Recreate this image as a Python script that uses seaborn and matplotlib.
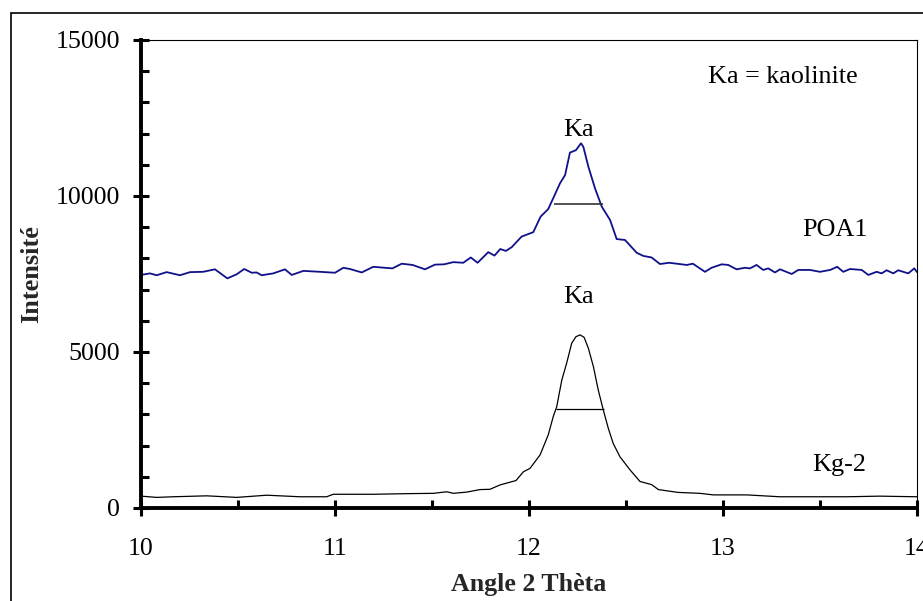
import matplotlib
matplotlib.use("Agg")
import matplotlib.pyplot as plt
from matplotlib.patches import Rectangle
from matplotlib.ticker import MultipleLocator
import pandas as pd
import seaborn as sns

# Diffractogram of the POA1 sample (2-theta in degrees, counts)
poa1_theta = [10.000, 10.046, 10.081, 10.132, 10.201, 10.253, 10.320, 10.381, 10.445, 10.493,
              10.532, 10.571, 10.596, 10.622, 10.682, 10.742, 10.777, 10.837, 10.923, 11.000,
              11.043, 11.077, 11.138, 11.197, 11.296, 11.344, 11.400, 11.464, 11.515, 11.562,
              11.610, 11.661, 11.700, 11.735, 11.790, 11.822, 11.852, 11.881, 11.911, 11.962,
              12.022, 12.060, 12.099, 12.125, 12.160, 12.186, 12.211, 12.242, 12.268, 12.280,
              12.306, 12.340, 12.375, 12.418, 12.452, 12.495, 12.555, 12.589, 12.632, 12.675,
              12.723, 12.813, 12.845, 12.907, 12.941, 12.993, 13.027, 13.070, 13.113, 13.139,
              13.173, 13.207, 13.233, 13.268, 13.294, 13.354, 13.388, 13.448, 13.500, 13.552,
              13.589, 13.620, 13.655, 13.715, 13.749, 13.792, 13.818, 13.843, 13.878, 13.903,
              13.955, 13.986, 14.000]
poa1_counts = [7470, 7520, 7460, 7560, 7460, 7560, 7570, 7650, 7360, 7490,
               7660, 7540, 7550, 7460, 7520, 7650, 7470, 7600, 7570, 7540,
               7700, 7660, 7550, 7730, 7680, 7830, 7790, 7650, 7800, 7810,
               7880, 7860, 8030, 7860, 8200, 8090, 8300, 8240, 8360, 8700,
               8840, 9340, 9580, 9930, 10410, 10670, 11390, 11470, 11690, 11580,
               10940, 10250, 9660, 9230, 8620, 8590, 8180, 8080, 8030, 7820,
               7860, 7790, 7830, 7570, 7700, 7810, 7790, 7650, 7700, 7680,
               7790, 7630, 7680, 7550, 7650, 7500, 7630, 7630, 7570, 7630,
               7730, 7570, 7660, 7630, 7470, 7570, 7520, 7620, 7520, 7620,
               7520, 7680, 7560]

# Diffractogram of the Kg-2 reference kaolinite
kg2_theta = [10.000, 10.081, 10.165, 10.339, 10.493, 10.648, 10.820, 10.957, 10.991, 11.197,
             11.370, 11.507, 11.576, 11.610, 11.679, 11.747, 11.799, 11.851, 11.933, 11.971,
             12.005, 12.057, 12.099, 12.125, 12.143, 12.169, 12.194, 12.220, 12.242, 12.263,
             12.284, 12.306, 12.332, 12.357, 12.383, 12.409, 12.434, 12.469, 12.521, 12.572,
             12.632, 12.667, 12.768, 12.881, 12.950, 13.122, 13.294, 13.466, 13.637, 13.809,
             14.000]
kg2_counts = [380, 340, 360, 390, 340, 410, 360, 360, 440, 440,
              460, 470, 520, 470, 510, 590, 600, 740, 880, 1160,
              1270, 1700, 2340, 2930, 3250, 4100, 4640, 5280, 5490, 5550,
              5470, 5120, 4530, 3780, 3140, 2550, 2070, 1640, 1220, 850,
              750, 590, 500, 470, 420, 420, 360, 360, 360, 380,
              360]

# Peak widths at half height (level, left edge, right edge)
poa1_fwhm = [9730, 12.129, 12.380]
kg2_fwhm = [3160, 12.139, 12.387]

x_ticks = [10, 11, 12, 13, 14]
y_ticks = [0, 5000, 10000, 15000]

poa1 = pd.DataFrame({"theta": poa1_theta, "counts": poa1_counts})
kg2 = pd.DataFrame({"theta": kg2_theta, "counts": kg2_counts})

sns.set_style("white")
plt.rcParams["font.family"] = ["Liberation Serif", "DejaVu Serif"]

fig = plt.figure(figsize=(9.23, 6.01), dpi=100)
ax = fig.add_axes([141 / 923, 93 / 601, 776 / 923, 468 / 601])

sns.lineplot(data=poa1, x="theta", y="counts", ax=ax, color="#10108a",
             linewidth=1.3, estimator=None, sort=False)
sns.lineplot(data=kg2, x="theta", y="counts", ax=ax, color="black",
             linewidth=0.9, estimator=None, sort=False)
for line in ax.get_lines():
    line.set_solid_joinstyle("round")

ax.hlines(poa1_fwhm[0], poa1_fwhm[1], poa1_fwhm[2], color="#333333", linewidth=1.2)
ax.hlines(kg2_fwhm[0], kg2_fwhm[1], kg2_fwhm[2], color="black", linewidth=0.9)

ax.set_xlim(x_ticks[0], x_ticks[-1])
ax.set_ylim(y_ticks[0], y_ticks[-1])
ax.set_xticks(x_ticks)
ax.set_yticks(y_ticks)
ax.set_xticklabels([str(v) for v in x_ticks])
ax.set_yticklabels([str(v) for v in y_ticks])
ax.xaxis.set_minor_locator(MultipleLocator(0.5))
ax.yaxis.set_minor_locator(MultipleLocator(1000))

for side in ("left", "bottom"):
    ax.spines[side].set_linewidth(2.8)
for side in ("top", "right"):
    ax.spines[side].set_linewidth(0.8)
for s in ax.spines.values():
    s.set_color("black")
    s.set_visible(True)

ax.tick_params(bottom=True, left=True, top=False, right=False, which="both")
ax.tick_params(axis="both", which="major", direction="inout", length=11.5, width=2.2,
               labelsize=18.6, colors="black")
ax.tick_params(axis="y", which="major", pad=9.5)
ax.tick_params(axis="x", which="major", pad=16)
ax.tick_params(axis="both", which="minor", direction="in", length=5.5, width=2.2,
               colors="black")

ax.set_xlabel("Angle 2 Thèta", fontsize=18.6, fontweight="bold", labelpad=9)
ax.set_ylabel("Intensité", fontsize=19, fontweight="bold", labelpad=9)

text_style = dict(fontsize=18.8, ha="center", va="center", color="black")
ax.text(13.307, 13810, "Ka = kaolinite", **text_style)
ax.text(12.253, 12110, "Ka", **text_style)
ax.text(12.253, 6760, "Ka", **text_style)
ax.text(13.577, 8910, "POA1", **text_style)
ax.text(13.600, 1380, "Kg-2", **text_style)

# Chart-area border
fig.add_artist(Rectangle((11 / 923, -0.2), 1.2, (601 - 13) / 601 + 0.2,
                         transform=fig.transFigure, fill=False,
                         edgecolor="black", linewidth=1.2, clip_on=False))

fig.savefig("out.png", dpi=100)
